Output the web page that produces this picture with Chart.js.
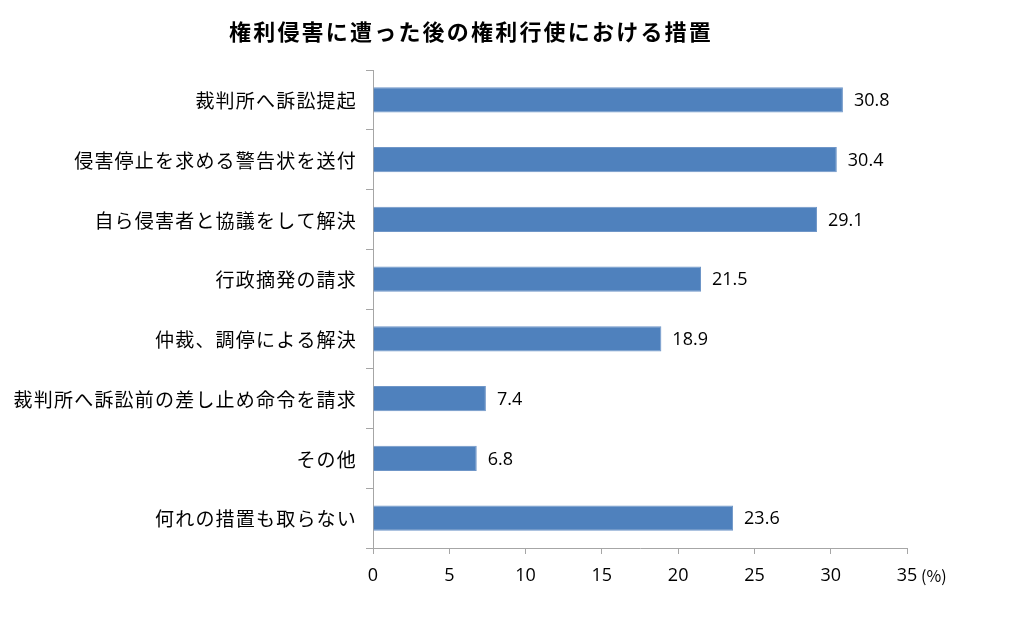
<!DOCTYPE html>
<html>
<head>
<meta charset="utf-8">
<style>
  html, body { margin: 0; padding: 0; background: #fff; }
  #wrap { width: 1024px; height: 619px; }
</style>
<script src="https://cdn.jsdelivr.net/npm/chart.js@4/dist/chart.umd.min.js"></script>
</head>
<body>
<div id="wrap"><canvas id="myChart" width="1024" height="619"></canvas></div>
<script>
const titleText = "権利侵害に遭った後の権利行使における措置";
const categories = [
  "裁判所へ訴訟提起",
  "侵害停止を求める警告状を送付",
  "自ら侵害者と協議をして解決",
  "行政摘発の請求",
  "仲裁、調停による解決",
  "裁判所へ訴訟前の差し止め命令を請求",
  "その他",
  "何れの措置も取らない"
];
const values = [30.8, 30.4, 29.1, 21.5, 18.9, 7.4, 6.8, 23.6];
const xTicks = [0, 5, 10, 15, 20, 25, 30, 35];
const unitText = "(%)";

const jpFont = "'Noto Sans CJK JP', 'Noto Sans', sans-serif";
const numFont = "'Open Sans', 'Noto Sans', sans-serif";

// title, category labels (with letter spacing), value labels and unit
const extras = {
  id: "extras",
  afterDatasetsDraw(chart) {
    const ctx = chart.ctx;
    ctx.save();
    ctx.fillStyle = "#000";
    ctx.textBaseline = "middle";

    // TITLE
    ctx.font = "bold 22px " + jpFont;
    ctx.letterSpacing = "2.2px";
    ctx.textAlign = "center";
    ctx.fillText(titleText, 471, 32);

    // CATEGORY LABELS
    const ys = chart.scales.y;
    ctx.font = "19px " + jpFont;
    ctx.letterSpacing = "1.2px";
    ctx.textAlign = "right";
    categories.forEach(function(label, i) {
      ctx.fillText(label, 357, ys.getPixelForValue(i) + 1);
    });

    // VALUE LABELS
    ctx.letterSpacing = "0px";
    ctx.font = "18px " + numFont;
    ctx.textAlign = "left";
    const meta = chart.getDatasetMeta(0);
    meta.data.forEach(function(bar, i) {
      ctx.fillText(values[i].toFixed(1), bar.x + 11, bar.y + 1);
    });

    // UNIT
    const xs = chart.scales.x;
    ctx.font = "16px " + jpFont;
    ctx.fillText(unitText, xs.getPixelForValue(35) + 14, 576);
    ctx.restore();
  }
};

new Chart(document.getElementById("myChart").getContext("2d"), {
  type: "bar",
  data: {
    labels: categories,
    datasets: [{
      data: values,
      backgroundColor: "#4F81BD",
      borderColor: "#6f96c8",
      borderWidth: 1,
      barPercentage: 0.42,
      categoryPercentage: 1
    }]
  },
  plugins: [extras],
  options: {
    indexAxis: "y",
    responsive: false,
    animation: false,
    layout: { padding: { top: 70, right: 117, left: 0, bottom: 0 } },
    plugins: {
      legend: { display: false },
      tooltip: { enabled: false },
      title: { display: false }
    },
    scales: {
      x: {
        min: 0,
        max: 35,
        afterBuildTicks(scale) {
          scale.ticks = xTicks.map(v => ({ value: v }));
        },
        afterFit(scale) { scale.height = 71; },
        grid: {
          drawOnChartArea: false,
          color: "#a6a6a6",
          tickLength: 6
        },
        border: { color: "#a6a6a6" },
        ticks: {
          color: "#000",
          padding: 11,
          font: { family: numFont, size: 18 }
        }
      },
      y: {
        afterFit(scale) { scale.width = 373; },
        grid: {
          drawOnChartArea: false,
          offset: true,
          color: "#a6a6a6",
          tickLength: 7
        },
        border: { color: "#a6a6a6" },
        ticks: {
          display: false
        }
      }
    }
  }
});
</script>
</body>
</html>
